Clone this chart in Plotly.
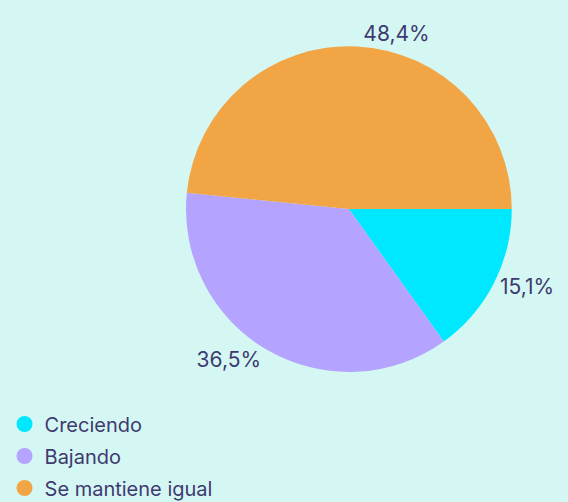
import plotly.graph_objects as go

categories = ["Creciendo", "Bajando", "Se mantiene igual"]
values = [15.1, 36.5, 48.4]
colors = ["#00E8FF", "#B4A3FF", "#F2A545"]

bg = "#D5F7F3"
txt = "#3E3A70"

fig = go.Figure()
fig.add_trace(go.Pie(
    labels=categories, values=values, sort=False, direction="clockwise",
    rotation=90, textinfo="percent", textposition="outside",
    marker=dict(colors=colors, line=dict(width=0)),
    textfont=dict(size=21, color=txt, family="Inter, sans-serif"),
    showlegend=False,
    domain=dict(x=[0.3275, 0.901], y=[0.259, 0.908]),
))
for c, col in zip(categories, colors):
    fig.add_trace(go.Scatter(
        x=[None], y=[None], mode="markers", name=c, legendgroup=c,
        marker=dict(color=col, size=16, symbol="circle"),
    ))

fig.update_layout(
    width=568, height=502,
    paper_bgcolor=bg, plot_bgcolor=bg,
    separators=",.",
    font=dict(family="Inter, sans-serif", color=txt, size=19),
    margin=dict(l=0, r=0, t=0, b=0, autoexpand=False),
    xaxis=dict(visible=False), yaxis=dict(visible=False),
    legend=dict(x=0.008, y=-0.011, xanchor="left", yanchor="bottom",
                traceorder="grouped", tracegroupgap=3,
                font=dict(size=20, color=txt), itemwidth=30,
                bgcolor="rgba(0,0,0,0)"),
)
fig.write_html("out.html", config={"displayModeBar": False},
               post_script="document.body.style.margin='0';")
